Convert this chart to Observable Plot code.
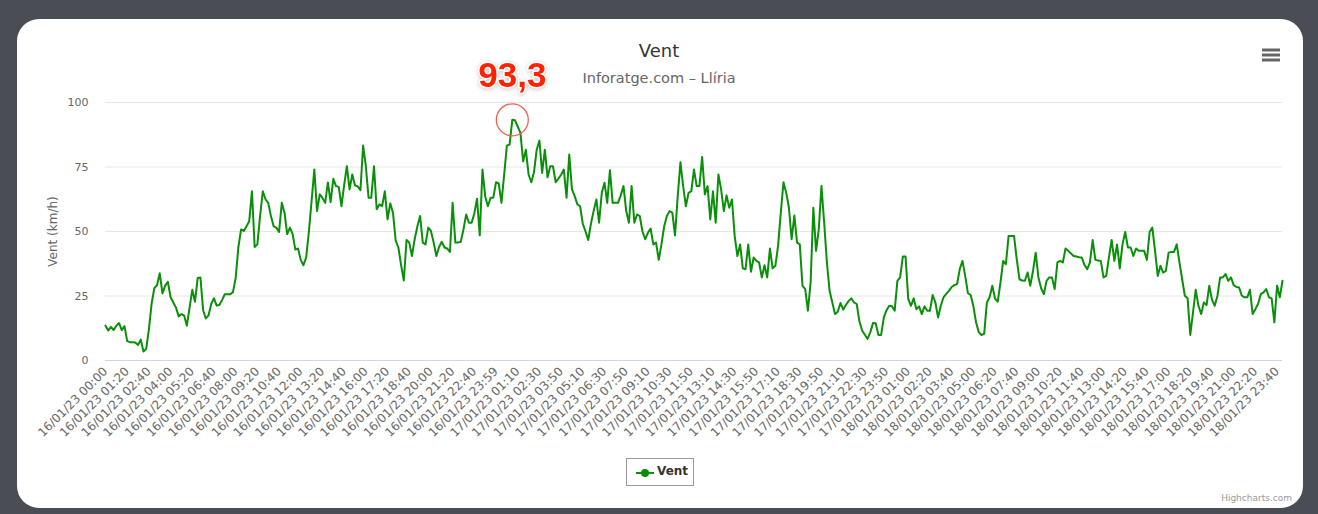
<!DOCTYPE html>
<html>
<head>
<meta charset="utf-8">
<script src="https://cdn.jsdelivr.net/npm/d3@7"></script>
<script src="https://cdn.jsdelivr.net/npm/@observablehq/plot@0.6"></script>
<style>
  html, body { margin: 0; padding: 0; }
  body { width: 1318px; height: 514px; background: #4b4d55; position: relative; overflow: hidden; font-family: "DejaVu Sans", sans-serif; }
  #card { position: absolute; left: 17px; top: 19px; width: 1286px; height: 489px; background: #fff; border-radius: 22px; }
  #chart { position: absolute; left: 0; top: 0; }
  #title { position: absolute; left: 0; width: 1318px; top: 40px; text-align: center; font-size: 18px; color: #333; }
  #subtitle { position: absolute; left: 0; width: 1318px; top: 70px; text-align: center; font-size: 14.5px; color: #666; }
  #menu { position: absolute; left: 1261px; top: 47px; }
  #legend { position: absolute; left: 626px; top: 458px; width: 66px; height: 26px; border: 1px solid #999; background: #fff; }
  #legend svg { position: absolute; left: 0; top: 0; }
  #legend span { position: absolute; left: 30px; top: 5px; font-size: 12px; font-weight: bold; color: #333; }
  #credits { position: absolute; right: 26px; top: 493px; font-size: 9px; color: #999; }
</style>
</head>
<body>
<div id="card"></div>
<div id="chart"></div>
<div id="title">Vent</div>
<div id="subtitle">Inforatge.com – Llíria</div>
<svg id="menu" width="20" height="16"><g stroke="#666" stroke-width="3"><line x1="1" y1="3" x2="19" y2="3"/><line x1="1" y1="8" x2="19" y2="8"/><line x1="1" y1="13" x2="19" y2="13"/></g></svg>
<div id="legend"><svg width="30" height="26"><line x1="9" y1="14" x2="27" y2="14" stroke="#0a8f0a" stroke-width="2"/><circle cx="18" cy="14" r="4" fill="#0a8f0a"/></svg><span>Vent</span></div>
<div id="credits">Highcharts.com</div>
<script>
// Tick labels (one every 8 readings)
const tickLabels = [
"16/01/23 00:00","16/01/23 01:20","16/01/23 02:40","16/01/23 04:00","16/01/23 05:20","16/01/23 06:40","16/01/23 08:00","16/01/23 09:20","16/01/23 10:40","16/01/23 12:00","16/01/23 13:20","16/01/23 14:40","16/01/23 16:00","16/01/23 17:20","16/01/23 18:40","16/01/23 20:00","16/01/23 21:20","16/01/23 22:40","16/01/23 23:59",
"17/01/23 01:10","17/01/23 02:30","17/01/23 03:50","17/01/23 05:10","17/01/23 06:30","17/01/23 07:50","17/01/23 09:10","17/01/23 10:30","17/01/23 11:50","17/01/23 13:10","17/01/23 14:30","17/01/23 15:50","17/01/23 17:10","17/01/23 18:30","17/01/23 19:50","17/01/23 21:10","17/01/23 22:30","17/01/23 23:50",
"18/01/23 01:00","18/01/23 02:20","18/01/23 03:40","18/01/23 05:00","18/01/23 06:20","18/01/23 07:40","18/01/23 09:00","18/01/23 10:20","18/01/23 11:40","18/01/23 13:00","18/01/23 14:20","18/01/23 15:40","18/01/23 17:00","18/01/23 18:20","18/01/23 19:40","18/01/23 21:00","18/01/23 22:20","18/01/23 23:40"
];
const labelEvery = 8;

// Wind readings (km/h)
const vent = [
13.5, 11.6, 13, 11.8, 13.5, 14.5, 11.8, 13.3, 7.5, 7.1,
7.1, 7, 6, 8.1, 3.5, 4.5, 12, 22, 28, 29.2,
33.8, 26, 29, 30.5, 24.5, 22.5, 20.5, 17.1, 18, 17.4,
13.5, 20.5, 27.4, 22.8, 32, 32.2, 19.5, 16.3, 17.5, 22,
24.1, 21.3, 21.5, 23.5, 25.7, 25.7, 25.7, 26.5, 32, 44,
50.8, 50.2, 52, 54, 65.6, 44, 45, 56, 65.6, 62.5,
61.1, 56, 52, 51.5, 49.8, 61.1, 57.3, 49, 51.5, 49,
43, 43.4, 39, 36.9, 40, 50, 62, 74, 57.9, 64.4,
63, 61.1, 69, 61.4, 70.4, 67.6, 67.3, 59.8, 68, 75.3,
66.3, 72.1, 67.8, 67.5, 66, 83.3, 75.3, 63.1, 63.1, 75.3,
58.6, 60.5, 59.8, 65.6, 54.7, 60.9, 57.3, 46.5, 43.8, 37,
31, 46.7, 45.7, 40.5, 47, 52, 56, 45.7, 45, 51.5,
50.2, 45.7, 40.5, 44, 46, 43.8, 43.4, 42.1, 61.1, 45.7,
45.7, 46, 50.8, 56.6, 53.4, 53.4, 57, 62.7, 48.5, 74,
63.7, 59.8, 63.1, 63.1, 69.1, 68.6, 61.1, 72, 83.3, 83.7,
93.3, 93.1, 90.7, 88.2, 77.2, 81.7, 72.1, 69.1, 73, 81.7,
85.3, 72.7, 81.7, 71, 75.3, 75.3, 69.1, 70.5, 72, 74,
63.1, 79.8, 66.3, 63.7, 60.5, 59.8, 53, 50, 46.7, 53,
58, 62.4, 53.4, 65, 68.9, 61.1, 73.7, 61.1, 61.1, 61.1,
64, 67.6, 58, 53.4, 67.6, 53.4, 56.6, 56, 50, 47,
49.5, 51.1, 45, 45.7, 39, 45, 52, 56, 57.9, 57.3,
48.5, 63.7, 76.8, 67.6, 59.8, 65, 65.6, 74, 67.6, 67.6,
78.9, 64.4, 67.6, 54.7, 65.6, 53.4, 72.1, 66.3, 57.9, 64,
59.2, 62.4, 48.3, 40.5, 45, 35.7, 35.4, 45, 34.4, 39.9,
38.6, 38, 32.2, 36.9, 32.2, 43.4, 35.7, 36.7, 44.4, 57.3,
69.1, 65, 59.2, 47, 56.2, 45.7, 45, 29, 27.7, 19.3,
30.2, 59.2, 42.5, 50.8, 67.6, 53.4, 38, 27, 22.5, 18,
18.9, 22.3, 19.7, 21.5, 23, 24.1, 22.5, 21.9, 15.1, 11.6,
10, 8.4, 10.9, 14.5, 14.4, 9.9, 9.9, 16.7, 19.5, 21.2,
21, 19.3, 30.9, 32.2, 40.3, 40.3, 23.8, 21.2, 24.1, 19.9,
21, 18, 21, 19.3, 19.3, 25.4, 22.5, 16.7, 21.2, 24.5,
25.8, 27, 28.5, 29.2, 29.6, 35.4, 38.6, 32.8, 26.1, 25.4,
21.2, 14.8, 11, 9.9, 10.3, 22.5, 24.5, 29, 24, 22.8,
30.2, 38.6, 37.3, 48.3, 48.3, 48.3, 39.3, 31.5, 31, 30.9,
34.1, 29, 34.7, 41.8, 32.2, 28, 25.7, 30.9, 32.2, 32.2,
27.7, 38, 38.6, 38, 43.4, 42.5, 41.5, 40.5, 40.3, 40,
39.9, 37, 35.4, 38, 46.7, 39, 38.8, 38.6, 32.2, 32.8,
40, 46.7, 38.6, 45, 35.7, 45, 49.8, 43.8, 43.8, 40.5,
43.4, 42.5, 42.5, 42.5, 39, 49.8, 51.5, 42.5, 32.8, 36.7,
34.1, 34.7, 41.8, 42.1, 42.1, 45, 38, 31.5, 25.1, 24.1,
9.9, 18.7, 27.4, 21.2, 18, 22.5, 21.5, 29, 23.6, 21.2,
25, 32.2, 32.2, 33.5, 30.9, 32.2, 29.2, 28.5, 28.3, 25.1,
24.5, 24.5, 27.4, 18, 19.9, 22, 25.7, 26.4, 27.7, 24.5,
24.1, 14.8, 29, 24.5, 30.9
];
const yTicks = [0, 25, 50, 75, 100];
const yTitle = "Vent (km/h)";

const data = vent.map((v, i) => ({i, v}));
const tickIdx = tickLabels.map((_, k) => k * labelEvery);
const peakI = d3.maxIndex(vent);
const peak = [{i: peakI, v: vent[peakI]}];
const fmt = v => String(v).replace(".", ",");

const chart = Plot.plot({
  width: 1318,
  height: 450,
  marginLeft: 105,
  marginRight: 36,
  marginTop: 102,
  marginBottom: 90,
  style: {fontFamily: "DejaVu Sans, sans-serif", fontSize: "11px", color: "#666", background: "transparent", overflow: "visible"},
  x: {domain: [0, vent.length - 1], ticks: tickIdx, tickFormat: d => tickLabels[d / labelEvery], tickRotate: -45, tickSize: 0, tickPadding: 9, label: null},
  y: {domain: [0, 100], ticks: yTicks, tickSize: 0, tickPadding: 17, label: yTitle, labelAnchor: "center", labelOffset: 57},
  marks: [
    Plot.ruleY(yTicks.filter(t => t > 0), {stroke: "#e6e6e6"}),
    Plot.ruleY([0], {stroke: "#ccd6eb"}),
    Plot.line(data, {x: "i", y: "v", stroke: "#0a8f0a", strokeWidth: 2, strokeLinejoin: "round"}),
    Plot.dot(peak, {x: "i", y: "v", r: 16, stroke: "#f0604c", strokeWidth: 1.3, fill: "none"}),
    Plot.text(peak, {x: "i", y: "v", text: d => fmt(d.v), dy: -44, fill: "#ff2200", fontSize: 35, fontWeight: "bold", fontFamily: "Liberation Sans, Arial, sans-serif", stroke: "white", strokeWidth: 3, paintOrder: "stroke"})
  ]
});
document.getElementById("chart").appendChild(chart);

// Tidy: plain axis title without arrow, larger x tick text, soft shadow on annotation
chart.querySelectorAll("text").forEach(t => {
  if (t.textContent.includes("km/h")) {
    t.textContent = yTitle;
    t.style.fontSize = "12px";
  }
});
chart.querySelectorAll("g[aria-label^='x-axis'] text, g[aria-label='x-axis'] text").forEach(t => { t.style.fontSize = "12px"; });
const shadow = "drop-shadow(0px 1px 2px rgba(0,0,0,0.22))";
const g = chart.querySelector("g[fill='#ff2200']");
if (g) g.style.filter = shadow;
else chart.querySelectorAll("text[fill='#ff2200']").forEach(t => { t.style.filter = shadow; });
</script>
</body>
</html>
